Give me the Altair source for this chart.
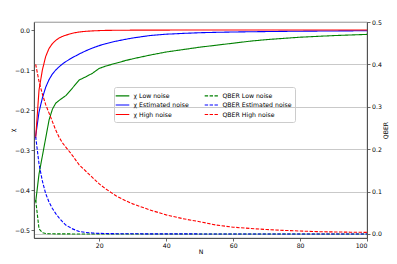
import altair as alt
import pandas as pd

N = [1, 2, 3, 4, 5, 6, 7, 8, 9, 10, 12, 14, 16, 18, 20, 22, 25, 28, 30, 35, 40, 45,
     50, 55, 60, 65, 70, 75, 80, 85, 90, 95, 100]

chi_low = [-0.43, -0.36, -0.315, -0.27, -0.225, -0.198, -0.183, -0.176, -0.17, -0.164,
           -0.145, -0.125, -0.117, -0.108, -0.096, -0.09, -0.083, -0.076, -0.072, -0.063,
           -0.055, -0.049, -0.043, -0.038, -0.033, -0.028, -0.024, -0.021, -0.018, -0.016,
           -0.014, -0.0125, -0.011]
chi_est = [-0.265, -0.205, -0.17, -0.143, -0.124, -0.11, -0.1, -0.092, -0.085, -0.079,
           -0.069, -0.06, -0.052, -0.045, -0.039, -0.034, -0.028, -0.023, -0.02, -0.014,
           -0.0105, -0.0085, -0.0068, -0.0058, -0.005, -0.0044, -0.0039, -0.0034, -0.003,
           -0.0027, -0.0024, -0.0021, -0.0019]
chi_high = [-0.27, -0.15, -0.1, -0.066, -0.046, -0.034, -0.026, -0.02, -0.016, -0.013,
            -0.008, -0.005, -0.0033, -0.0022, -0.0015, -0.001, -0.0007, -0.0005, -0.0004,
            -0.0003, -0.0002, -0.00015, -0.0001, -0.0001, -0.0001, -0.0001, 0.0, 0.0, 0.0,
            0.0, 0.0, 0.0, 0.0]
qber_low = [0.08, 0.012, 0.003, 0.0012, 0.0006, 0.0004, 0.0003, 0.0002, 0.0002, 0.0002,
            0.0001, 0.0001, 0.0001, 0.0001, 0.0001, 0.0, 0.0, 0.0, 0.0, 0.0, 0.0, 0.0, 0.0,
            0.0, 0.0, 0.0, 0.0, 0.0, 0.0, 0.0, 0.0, 0.0, 0.0]
qber_est = [0.23, 0.165, 0.125, 0.095, 0.075, 0.06, 0.048, 0.038, 0.029, 0.021, 0.012,
            0.006, 0.0035, 0.0022, 0.0015, 0.001, 0.0007, 0.0005, 0.0004, 0.0003, 0.0002,
            0.0002, 0.0001, 0.0001, 0.0001, 0.0001, 0.0001, 0.0, 0.0, 0.0, 0.0, 0.0, 0.0]
qber_high = [0.40, 0.36, 0.33, 0.305, 0.285, 0.265, 0.245, 0.228, 0.215, 0.205, 0.185,
             0.163, 0.148, 0.133, 0.118, 0.106, 0.09, 0.078, 0.071, 0.057, 0.045, 0.036,
             0.029, 0.021, 0.016, 0.013, 0.0105, 0.0085, 0.007, 0.0055, 0.0048, 0.0042,
             0.0038]

chi_names = ["χ Low noise", "χ Estimated noise", "χ High noise"]
qber_names = ["QBER Low noise", "QBER Estimated noise", "QBER High noise"]

legend_order = chi_names + qber_names
series_colors = ["#008000", "#0000ff", "#ff0000", "#008000", "#0000ff", "#ff0000"]
series_dashes = [[1, 0], [1, 0], [1, 0], [3.4, 1.5], [3.4, 1.5], [3.4, 1.5]]

chi_rows = []
for name, vals in zip(chi_names, [chi_low, chi_est, chi_high]):
    for n, v in zip(N, vals):
        chi_rows.append({"N": n, "value": v, "series": name})
qber_rows = []
for name, vals in zip(qber_names, [qber_low, qber_est, qber_high]):
    for n, v in zip(N, vals):
        qber_rows.append({"N": n, "value": v, "series": name})
chi_df = pd.DataFrame(chi_rows)
qber_df = pd.DataFrame(qber_rows)

FONT = "DejaVu Sans"
FS = 6.2

legend = alt.Legend(
    title=None, orient="none", legendX=80, legendY=65, columns=2,
    symbolType="M-1.7,0H1.7", symbolSize=64, symbolStrokeWidth=1.2,
    labelFont=FONT, labelFontSize=FS, labelColor="#000000", labelOffset=6,
    labelLimit=300, columnPadding=12, rowPadding=0.5, padding=3.5,
    strokeColor="#cccccc", cornerRadius=2,
)

color = alt.Color("series:N", scale=alt.Scale(domain=legend_order, range=series_colors),
                  legend=legend)
dash = alt.StrokeDash("series:N", scale=alt.Scale(domain=legend_order, range=series_dashes),
                      legend=legend)

x_enc = alt.X("N:Q", scale=alt.Scale(domain=[0.5, 100], nice=False, zero=False),
              axis=alt.Axis(values=[20, 40, 60, 80, 100], title="N", grid=False,
                            titleX=166.5, titleY=13, titleBaseline="middle",
                            titleAlign="center"))

chi_layer = alt.Chart(chi_df).mark_line(strokeWidth=1.1).encode(
    x=x_enc,
    y=alt.Y("value:Q", scale=alt.Scale(domain=[-0.52, 0.02], nice=False, zero=False),
            axis=alt.Axis(orient="left", values=[-0.5, -0.4, -0.3, -0.2, -0.1, 0.0],
                          format=".1f", grid=False, title="χ", titleAngle=270,
                          titleX=-22, titleY=108, titleAlign="center",
                          titleBaseline="middle")),
    color=color, strokeDash=dash,
    order=alt.Order("N:Q"),
)

qber_layer = alt.Chart(qber_df).mark_line(strokeWidth=1.1).encode(
    x=x_enc,
    y=alt.Y("value:Q", scale=alt.Scale(domain=[-0.0095, 0.5], nice=False, zero=False),
            axis=alt.Axis(orient="right", values=[0.0, 0.1, 0.2, 0.3, 0.4, 0.5],
                          format=".1f", grid=True, title="QBER", titleAngle=270,
                          titleX=18, titleY=108, titleAlign="center",
                          titleBaseline="middle")),
    color=color, strokeDash=dash,
    order=alt.Order("N:Q"),
)

chart = alt.layer(chi_layer, qber_layer).resolve_scale(
    y="independent"
).properties(
    width=333, height=216,
    autosize=alt.AutoSizeParams(type="none"),
    padding={"left": 26, "top": 14, "right": 22, "bottom": 18},
    background="white",
).configure_view(
    stroke="#444444", strokeWidth=0.8
).configure_axis(
    labelFont=FONT, labelFontSize=FS, labelColor="#000000",
    titleFont=FONT, titleFontSize=FS, titleColor="#000000", titleFontWeight="normal",
    tickColor="#444444", tickWidth=0.8, tickSize=3, labelPadding=1.5,
    domainColor="#444444", domainWidth=0.8,
    gridColor="#bbbbbb", gridWidth=0.8,
)

chart.save("out.html", embed_options={"renderer": "svg", "actions": False})
